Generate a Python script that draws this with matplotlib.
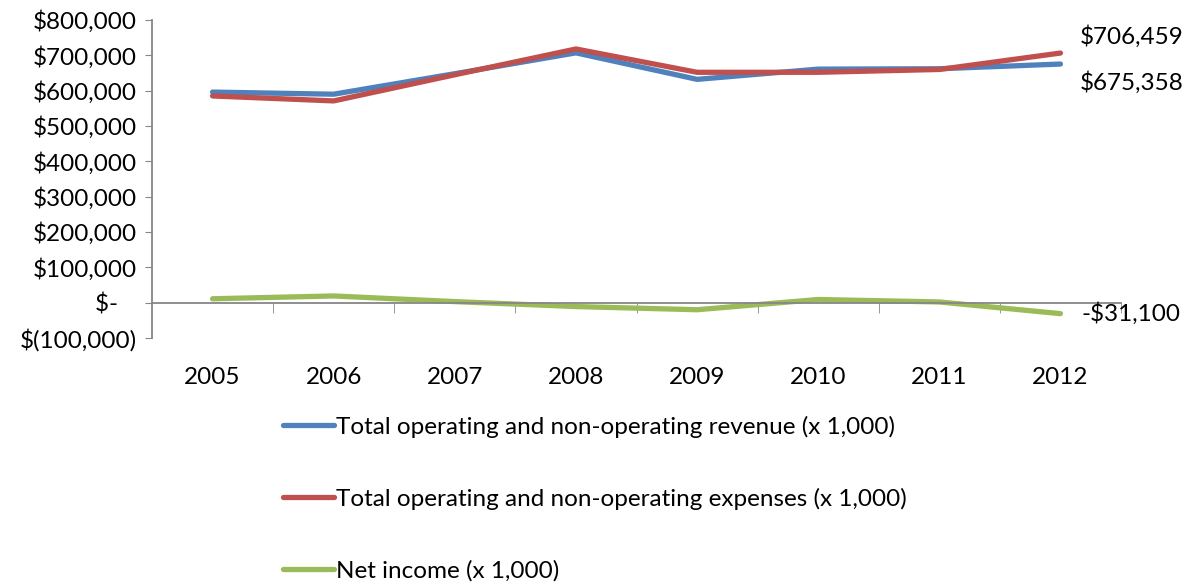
import matplotlib
matplotlib.use("Agg")
from matplotlib import pyplot as plt
from matplotlib.ticker import FuncFormatter

years = ["2005", "2006", "2007", "2008", "2009", "2010", "2011", "2012"]
revenue = [596000, 590000, 648000, 707000, 632000, 661000, 662000, 675358]
expenses = [585000, 571000, 645000, 718000, 652000, 652000, 660000, 706459]
net_income = [11000, 19000, 3000, -11000, -20000, 9000, 2000, -31100]

labels = ["Total operating and non-operating revenue (x 1,000)",
          "Total operating and non-operating expenses (x 1,000)",
          "Net income (x 1,000)"]
colors = ["#4F81BD", "#C0504D", "#9BBB59"]

plt.rcParams['font.family'] = ['Lato', 'DejaVu Sans']
fs = 17.5

fig = plt.figure(figsize=(11.96, 5.88), dpi=100)
ax = fig.add_axes([152 / 1196, 250 / 588, 969 / 1196, 318 / 588])

x = list(range(len(years)))
lines = []
for series, c, lab in zip([revenue, expenses, net_income], colors, labels):
    ln, = ax.plot(x, series, color=c, lw=3.8, solid_capstyle='round', label=lab)
    lines.append(ln)

ax.set_xlim(-0.5, len(years) - 0.5)
ax.set_ylim(-100000, 800000)
ax.set_yticks(range(-100000, 800001, 100000))


def money(v, pos):
    if v == 0:
        return "$-   "
    if v < 0:
        return "$({:,.0f})".format(-v)
    return "${:,.0f}".format(v)


ax.yaxis.set_major_formatter(FuncFormatter(money))
ax.tick_params(axis='y', length=5, color='#868686', pad=6, labelsize=fs)

# category labels sit below the plot, boundary ticks hang off the zero line
ax.spines['bottom'].set_position(('data', 0))
ax.set_xticks(x)
ax.set_xticklabels(years)
ax.set_xticks([i + 0.5 for i in x], minor=True)
ax.tick_params(axis='x', which='major', length=0, pad=46, labelsize=fs)
ax.tick_params(axis='x', which='minor', length=7, color='#868686')

for side in ['top', 'right']:
    ax.spines[side].set_visible(False)
for side in ['left', 'bottom']:
    ax.spines[side].set_color('#868686')
    ax.spines[side].set_linewidth(1.3)

last = len(years) - 1
ax.annotate("${:,.0f}".format(expenses[-1]), (last, expenses[-1]),
            xytext=(14, 12), textcoords='offset points', va='center', fontsize=fs)
ax.annotate("${:,.0f}".format(revenue[-1]), (last, revenue[-1]),
            xytext=(14, -13), textcoords='offset points', va='center', fontsize=fs)
ax.annotate("-${:,.0f}".format(-net_income[-1]), (last, net_income[-1]),
            xytext=(15, 0), textcoords='offset points', va='center', fontsize=fs)

fig.legend(handles=lines, loc='upper left', bbox_to_anchor=(261 / 1196, 1 - 394 / 588),
           frameon=False, fontsize=fs, handlelength=2.1, handletextpad=0.1,
           labelspacing=2.05)

fig.savefig("out.png", dpi=100)
